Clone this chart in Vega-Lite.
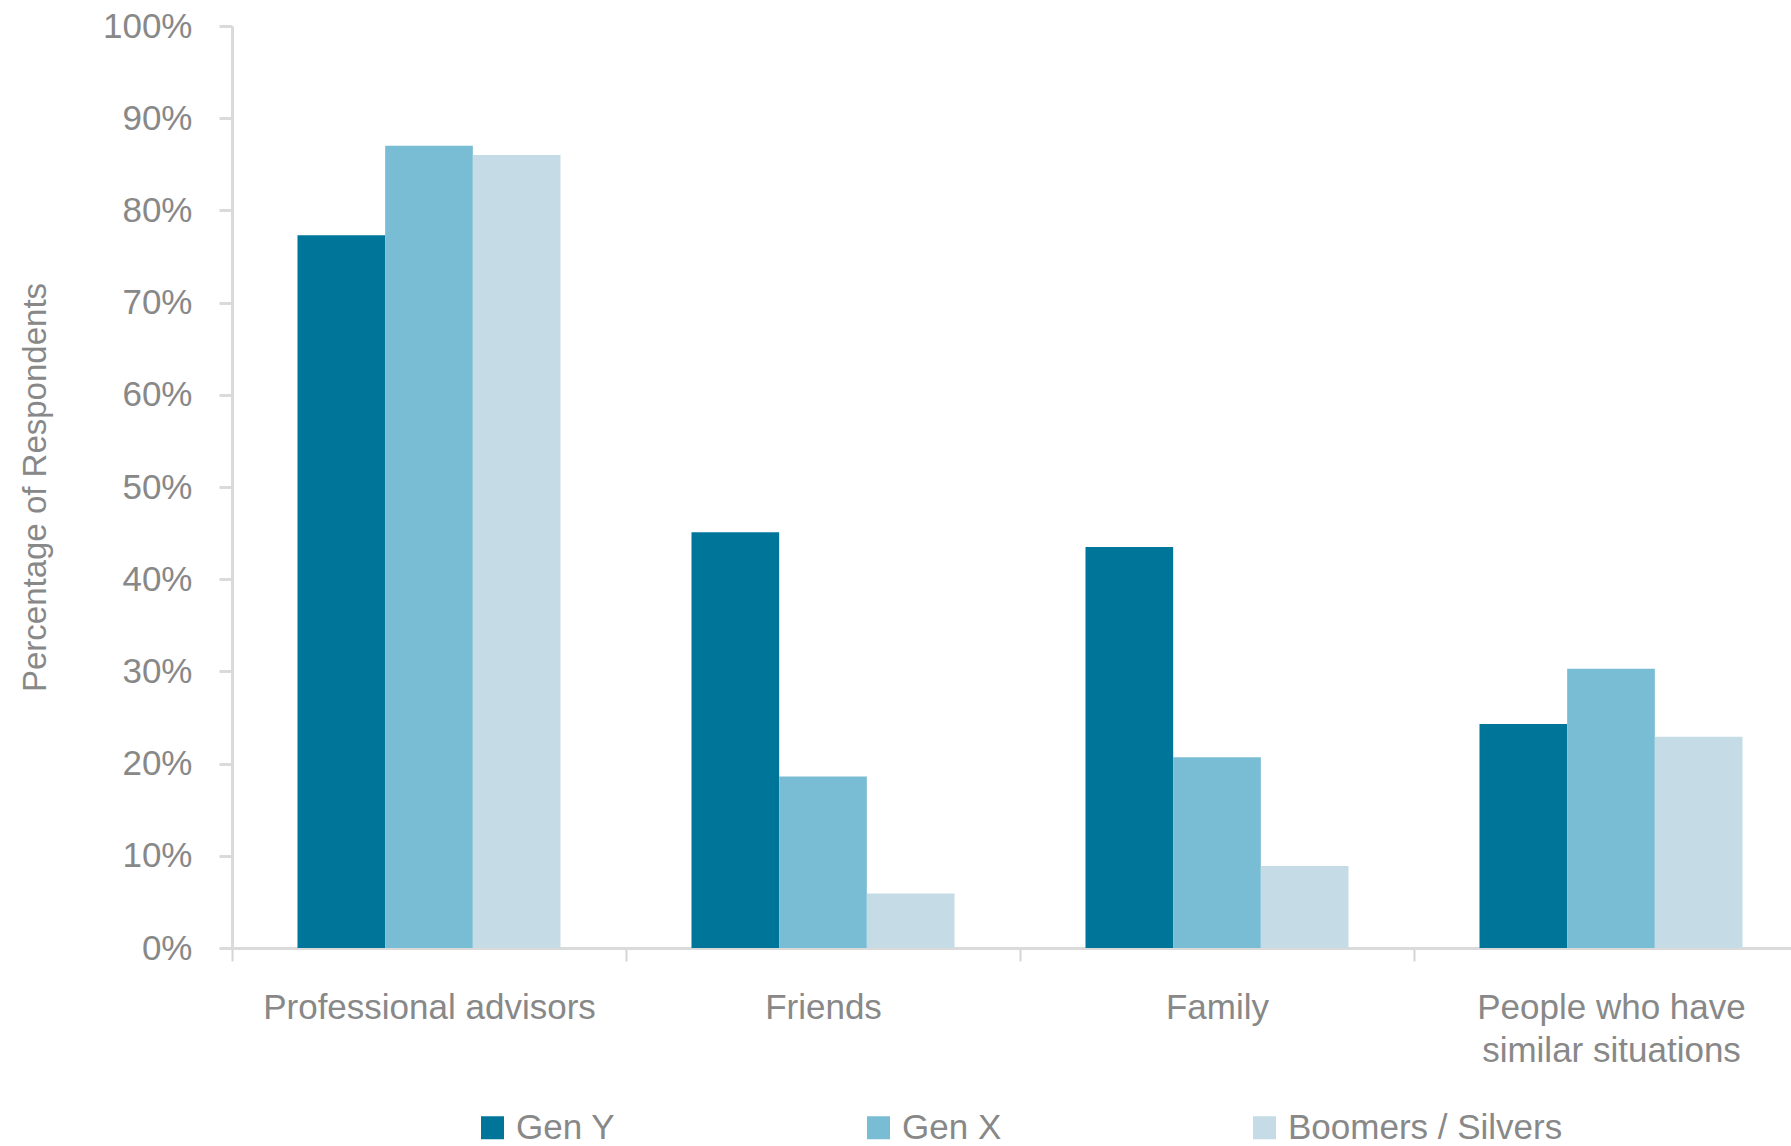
{
  "$schema": "https://vega.github.io/schema/vega-lite/v6.json",
  "width": 1559,
  "height": 922,
  "autosize": {"type": "none"},
  "padding": {"left": 232, "top": 26, "right": 0, "bottom": 198},
  "background": "white",
  "config": {"view": {"stroke": null}, "font": "Liberation Sans"},
  "data": {
    "values": [
      {"source": "Professional advisors", "generation": "Gen Y", "pct": 0.773},
      {"source": "Professional advisors", "generation": "Gen X", "pct": 0.870},
      {"source": "Professional advisors", "generation": "Boomers / Silvers", "pct": 0.860},
      {"source": "Friends", "generation": "Gen Y", "pct": 0.451},
      {"source": "Friends", "generation": "Gen X", "pct": 0.186},
      {"source": "Friends", "generation": "Boomers / Silvers", "pct": 0.059},
      {"source": "Family", "generation": "Gen Y", "pct": 0.435},
      {"source": "Family", "generation": "Gen X", "pct": 0.207},
      {"source": "Family", "generation": "Boomers / Silvers", "pct": 0.089},
      {"source": "People who have similar situations", "generation": "Gen Y", "pct": 0.243},
      {"source": "People who have similar situations", "generation": "Gen X", "pct": 0.303},
      {"source": "People who have similar situations", "generation": "Boomers / Silvers", "pct": 0.229}
    ]
  },
  "mark": {"type": "bar"},
  "encoding": {
    "x": {
      "field": "source",
      "type": "nominal",
      "sort": ["Professional advisors", "Friends", "Family", "People who have similar situations"],
      "scale": {"range": [0, 1576], "paddingInner": 0, "paddingOuter": 0},
      "axis": {
        "title": null,
        "tickBand": "extent",
        "labelAngle": 0,
        "labelLimit": 0,
        "domainColor": "#DADADA",
        "domainWidth": 3,
        "tickColor": "#D5D5D5",
        "tickWidth": 2,
        "tickSize": 13,
        "labelFontSize": 35,
        "labelColor": "#888888",
        "labelPadding": 29,
        "labelLineHeight": 43,
        "labelExpr": "datum.label == 'People who have similar situations' ? ['People who have', 'similar situations'] : datum.label"
      }
    },
    "xOffset": {
      "field": "generation",
      "type": "nominal",
      "sort": ["Gen Y", "Gen X", "Boomers / Silvers"],
      "scale": {"paddingInner": 0, "paddingOuter": 0.747}
    },
    "y": {
      "field": "pct",
      "type": "quantitative",
      "scale": {"domain": [0, 1]},
      "axis": {
        "values": [0, 0.1, 0.2, 0.3, 0.4, 0.5, 0.6, 0.7, 0.8, 0.9, 1],
        "format": ".0%",
        "title": "Percentage of Respondents",
        "titleFontSize": 33,
        "titleFontWeight": "normal",
        "titleColor": "#888888",
        "titlePadding": 50,
        "grid": false,
        "domainColor": "#DADADA",
        "domainWidth": 3,
        "tickColor": "#DADADA",
        "tickWidth": 3,
        "tickSize": 13,
        "labelFontSize": 35,
        "labelColor": "#888888",
        "labelPadding": 27
      }
    },
    "color": {
      "field": "generation",
      "type": "nominal",
      "sort": ["Gen Y", "Gen X", "Boomers / Silvers"],
      "scale": {
        "domain": ["Gen Y", "Gen X", "Boomers / Silvers"],
        "range": ["#00759A", "#78BDD3", "#C5DCE6"]
      },
      "legend": {
        "title": null,
        "orient": "none",
        "direction": "horizontal",
        "columns": 3,
        "legendX": 243,
        "legendY": 1084,
        "symbolType": "square",
        "symbolSize": 529,
        "symbolStrokeWidth": 0,
        "symbolOpacity": 1,
        "labelFontSize": 35,
        "labelColor": "#888888",
        "labelOffset": 6,
        "columnPadding": 245,
        "labelLimit": 0
      }
    }
  }
}
